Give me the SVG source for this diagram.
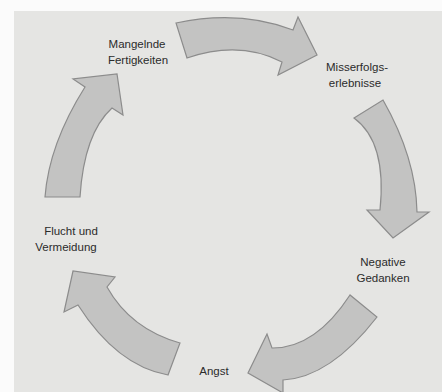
<svg xmlns="http://www.w3.org/2000/svg" width="442" height="392" viewBox="0 0 442 392">
  <style>
    .lbl { font-family: "Liberation Sans", Arial, sans-serif; font-size: 11.5px; fill: #2b2b2b; text-anchor: middle; }
    .arr { fill: #c3c3c2; stroke: #8c8c8c; stroke-width: 1.2; stroke-linejoin: miter; }
  </style>
  <rect x="0" y="0" width="442" height="392" fill="#fbfbfb"/>
  <rect x="14" y="11" width="428" height="381" fill="#e5e5e3"/>

  <g id="connectors">
    <path id="arrow-1" class="arr" d="M176,23 Q239.5,9.5 293,30 L298,17 L317,55 L278,75 L282,62 Q239.5,40 187,58 Z"/>
    <path id="arrow-2" class="arr" d="M383,100 Q416,158 417,212 L429,212 L393,238 L367,210 L380,210 Q387,142 354,118 Z"/>
    <path id="arrow-3" class="arr" d="M377,317 Q330,377.5 283,380 L283,393 L248,373 L267,334 L272,348 Q315,348.5 350,295 Z"/>
    <path id="arrow-4" class="arr" d="M168,375 Q117,366 78,305 L64,312 L73,271 L115,277 L107,287 Q130.5,329 180,343 Z"/>
    <path id="arrow-5" class="arr" d="M45,197 Q49,144 85,87 L73,79 L117,74 L123,115 L112,108 Q84,133.5 80,197 Z"/>
  </g>

  <g id="node-mangelnde-fertigkeiten">
    <text class="lbl" x="137" y="48">Mangelnde</text>
    <text class="lbl" x="138" y="64">Fertigkeiten</text>
  </g>
  <g id="node-misserfolgserlebnisse">
    <text class="lbl" x="357" y="71">Misserfolgs-</text>
    <text class="lbl" x="355" y="87">erlebnisse</text>
  </g>
  <g id="node-negative-gedanken">
    <text class="lbl" x="383" y="266">Negative</text>
    <text class="lbl" x="383" y="282">Gedanken</text>
  </g>
  <g id="node-angst">
    <text class="lbl" x="214" y="375">Angst</text>
  </g>
  <g id="node-flucht-vermeidung">
    <text class="lbl" x="71" y="235">Flucht und</text>
    <text class="lbl" x="66" y="251">Vermeidung</text>
  </g>
</svg>
